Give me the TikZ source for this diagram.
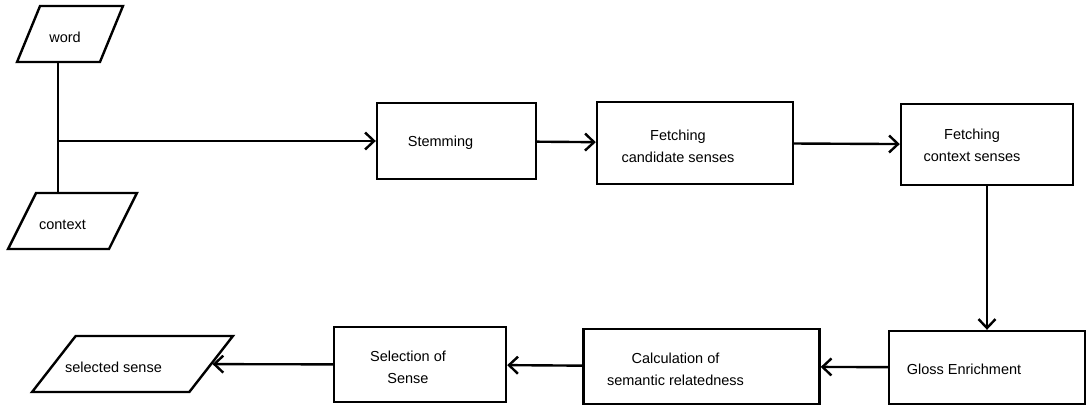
\documentclass[tikz,border=0pt]{standalone}
\usepackage{fontspec}
\setmainfont{Liberation Sans}
\usetikzlibrary{shapes.geometric,arrows.meta}

\tikzset{
  procbox/.style={draw, line width=2.4pt, minimum height=75pt},
  iobox/.style={draw, line width=2.4pt, trapezium, trapezium left angle=69,
    trapezium right angle=111, trapezium stretches=true, minimum height=56pt},
  txt/.style={align=center, font=\fontsize{14.5}{22}\selectfont},
  flow/.style={line width=2.4pt, -{Straight Barb[length=9pt,width=17pt]}},
  link/.style={line width=2.4pt},
}

\begin{document}
\begin{tikzpicture}[x=1pt, y=-1pt]
    \useasboundingbox (0,0) rectangle (1087,405);

    % inputs
    \node[iobox, minimum width=106pt, label={[txt, xshift=-5pt, yshift=-3pt]center:word}] (word) at (70,34) {};
    \node[iobox, minimum width=129pt, label={[txt, xshift=-10pt, yshift=-4pt]center:context}] (context) at (72.5,221) {};

    % upper row
    \node[procbox, minimum width=159pt, minimum height=76pt,
        label={[txt, xshift=-16pt, yshift=-2pt]center:Stemming}] (stem) at (456.5,141) {};
    \node[procbox, minimum width=196pt, minimum height=82pt,
        label={[txt, xshift=-17pt, yshift=-3pt]center:{Fetching\\candidate senses}}] (cand) at (695,143) {};
    \node[procbox, minimum width=172pt, minimum height=81pt,
        label={[txt, xshift=-15pt, yshift=-1pt]center:{Fetching\\context senses}}] (ctxsense) at (987,144.5) {};

    % lower row
    \node[procbox, minimum width=196pt, minimum height=73pt,
        label={[txt, xshift=-23pt, yshift=-2pt]center:Gloss Enrichment}] (gloss) at (987,367.5) {};
    \node[procbox, minimum width=236pt,
        label={[txt, xshift=-26pt, yshift=-3pt]center:{Calculation of\\semantic relatedness}}] (calc) at (701.5,366.5) {};
    \node[procbox, minimum width=172pt,
        label={[txt, xshift=-12pt, yshift=-3pt]center:{Selection of\\Sense}}] (select) at (420,364.5) {};

    % output
    \node[iobox, minimum width=201pt, label={[txt, xshift=-19pt, yshift=-3pt]center:selected sense}] (result) at (132.5,364) {};

    \coordinate (jn) at (word.bottom side |- stem.west);
    \draw[link] (word.bottom side) -- (jn) -- (jn |- context.top side);
    \draw[flow] (jn) -- (stem);
    \draw[flow] (stem) -- (cand);
    \draw[flow] (cand) -- (ctxsense);
    \draw[flow] (ctxsense) -- (gloss);
    \draw[flow] (gloss) -- (calc);
    \draw[flow] (calc) -- (select);
    \draw[flow] (select) -- (result);
\end{tikzpicture}
\end{document}
